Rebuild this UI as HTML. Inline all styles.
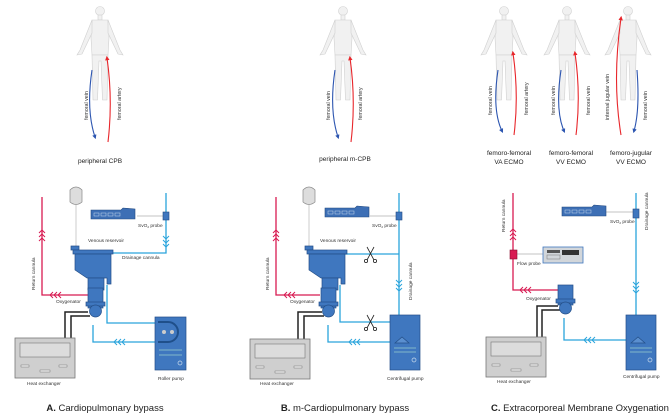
<!DOCTYPE html>
<html><head><meta charset="utf-8"><style>
body{margin:0;background:#fff}
svg{display:block}
text{font-family:"Liberation Sans",sans-serif}
.s{font-size:4.8px;fill:#333}
.v{font-size:5.3px;fill:#333}
.t{font-size:6.5px;fill:#222}
.h{font-size:9.5px;fill:#222}
</style></head><body>
<svg width="669" height="414" viewBox="0 0 669 414" xmlns="http://www.w3.org/2000/svg">
<defs>
<marker id="ab" viewBox="0 0 6 6" refX="3" refY="3" markerWidth="4" markerHeight="4" orient="auto"><path d="M0 0 L6 3 L0 6 Z" fill="#2c55b0"/></marker>
<marker id="ar" viewBox="0 0 6 6" refX="3" refY="3" markerWidth="4" markerHeight="4" orient="auto"><path d="M0 0 L6 3 L0 6 Z" fill="#e8262b"/></marker>
<g id="body" fill="#f1f1f1" stroke="#d0d0d0" stroke-width="0.6">
<circle cx="0" cy="8" r="4.5"/>
<rect x="-2" y="12" width="4" height="5"/>
<path d="M-8 17 L8 17 L9 35 L8 52 L-8 52 L-9 35 Z"/>
<path d="M-8 17 L-20 47 L-23 52 L-18 51 L-8 30 Z"/>
<path d="M8 17 L20 47 L23 52 L18 51 L8 30 Z"/>
<path d="M-8 52 L-7 97 L-2.5 97 L-1 58 L1 58 L2.5 97 L7 97 L8 52 Z"/>
</g>
<g id="heat">
<rect x="0" y="0" width="60" height="40" fill="#cfcfcf" stroke="#777" stroke-width="0.8"/>
<rect x="5" y="5" width="50" height="14" fill="#dcdcdc" stroke="#777" stroke-width="0.6"/>
<rect x="6" y="27" width="8" height="2" fill="#eee" stroke="#777" stroke-width="0.5"/>
<rect x="44" y="27" width="8" height="2" fill="#eee" stroke="#777" stroke-width="0.5"/>
<rect x="25" y="32" width="10" height="2" fill="#eee" stroke="#777" stroke-width="0.5"/>
</g>
<g id="mon">
<path d="M0 2 L30 2 L32 0 L44 1 L44 11 L0 11 Z" fill="#3d6fb5" stroke="#234a80" stroke-width="0.6"/>
<rect x="3" y="5" width="5" height="3" fill="none" stroke="#cde" stroke-width="0.5"/>
<rect x="10" y="5" width="5" height="3" fill="none" stroke="#cde" stroke-width="0.5"/>
<rect x="17" y="5" width="5" height="3" fill="none" stroke="#cde" stroke-width="0.5"/>
<rect x="24" y="5" width="5" height="3" fill="none" stroke="#cde" stroke-width="0.5"/>
</g>
<g id="iv">
<path d="M-6 4 Q0 -2 6 4 L6 16 Q0 21 -6 16 Z" fill="#ddd" stroke="#888" stroke-width="0.7"/>
<line x1="0" y1="19" x2="0" y2="60" stroke="#999" stroke-width="0.5"/>
</g>
<g id="res" fill="#3f77bf" stroke="#244f88" stroke-width="0.7">
<rect x="-2" y="-4" width="8" height="4"/>
<rect x="0" y="0" width="40" height="4"/>
<path d="M2 4 L38 4 L38 34 L34 34 L34 28 L14 28 L2 20 Z"/>
<rect x="15" y="28" width="16" height="12"/>
</g>
<g id="oxy" fill="#3f77bf" stroke="#244f88" stroke-width="0.7">
<rect x="0" y="0" width="15" height="20"/>
<rect x="-2" y="14" width="19" height="4"/>
<circle cx="7.5" cy="23" r="6"/>
</g>
<g id="cp" fill="#3f77bf" stroke="#244f88" stroke-width="0.7">
<rect x="0" y="0" width="30" height="55"/>
<path d="M5 28 L12 22 L19 28 Z" fill="#5a8fd0"/>
<line x1="4" y1="33" x2="26" y2="33" stroke="#9cc" />
<line x1="4" y1="37" x2="26" y2="37" stroke="#9cc"/>
<circle cx="24" cy="45" r="2" fill="none" stroke="#cde"/>
</g>
</defs>

<!-- bodies -->
<use href="#body" x="100" y="3"/>
<use href="#body" x="343" y="3"/>
<use href="#body" x="504" y="3"/>
<use href="#body" x="567" y="3"/>
<use href="#body" x="628" y="3"/>

<g fill="none" stroke-width="1.1">
<path d="M92 70 Q86 110 95 137" stroke="#2c55b0" marker-end="url(#ab)"/>
<path d="M108 142 Q113 100 107 58" stroke="#e8262b" marker-end="url(#ar)"/>
<path d="M335 70 Q329 110 338 137" stroke="#2c55b0" marker-end="url(#ab)"/>
<path d="M351 142 Q356 100 350 58" stroke="#e8262b" marker-end="url(#ar)"/>
<path d="M498 70 Q492 110 502 131" stroke="#2c55b0" marker-end="url(#ab)"/>
<path d="M514 135 Q519 95 513 53" stroke="#e8262b" marker-end="url(#ar)"/>
<path d="M561 70 Q555 110 564 131" stroke="#2c55b0" marker-end="url(#ab)"/>
<path d="M576 135 Q581 95 575 53" stroke="#e8262b" marker-end="url(#ar)"/>
<path d="M621 135 Q612 80 621 18" stroke="#e8262b" marker-end="url(#ar)"/>
<path d="M637 70 Q640 110 634 131" stroke="#2c55b0" marker-end="url(#ab)"/>
</g>
<text class="v" transform="translate(88,120) rotate(-90)">femoral vein</text>
<text class="v" transform="translate(121,120) rotate(-90)">femoral artery</text>
<text class="v" transform="translate(330,120) rotate(-90)">femoral vein</text>
<text class="v" transform="translate(362,120) rotate(-90)">femoral artery</text>
<text class="v" transform="translate(492,115) rotate(-90)">femoral vein</text>
<text class="v" transform="translate(528,115) rotate(-90)">femoral artery</text>
<text class="v" transform="translate(555,115) rotate(-90)">femoral vein</text>
<text class="v" transform="translate(590,115) rotate(-90)">femoral vein</text>
<text class="v" transform="translate(609,120) rotate(-90)">internal jugular vein</text>
<text class="v" transform="translate(647,120) rotate(-90)">femoral vein</text>

<text class="t" x="100" y="163" text-anchor="middle">peripheral CPB</text>
<text class="t" x="345" y="161" text-anchor="middle">peripheral m-CPB</text>
<text class="t" x="509" y="155" text-anchor="middle">femoro-femoral</text>
<text class="t" x="509" y="164" text-anchor="middle">VA ECMO</text>
<text class="t" x="571" y="155" text-anchor="middle">femoro-femoral</text>
<text class="t" x="571" y="164" text-anchor="middle">VV ECMO</text>
<text class="t" x="631" y="155" text-anchor="middle">femoro-jugular</text>
<text class="t" x="631" y="164" text-anchor="middle">VV ECMO</text>

<!-- ===== A ===== -->
<g fill="none" stroke-width="1.3">
<path d="M42 197 L42 295 L90 295" stroke="#d81b52"/>
<path d="M166 193 L166 253 L112 253" stroke="#2aa4dc"/>
<path d="M107 285 L107 323 L155 323" stroke="#2aa4dc"/>
<path d="M155 342 L93 342 L93 325" stroke="#2aa4dc"/>
<path d="M88 312 L65 312 L65 340 M90 316 L71 316 L71 340" stroke="#222" stroke-width="1.5"/>
<path d="M137 216 L163 216" stroke="#888" stroke-width="0.6"/>
</g>
<g fill="none" stroke="#d81b52" stroke-width="1">
<path d="M39 233 l3 -3 l3 3 M39 237 l3 -3 l3 3 M39 241 l3 -3 l3 3"/>
<path d="M53 292 l-3 3 l3 3 M57 292 l-3 3 l3 3 M61 292 l-3 3 l3 3"/>
</g>
<g fill="none" stroke="#2aa4dc" stroke-width="1">
<path d="M163 236 l3 3 l3 -3 M163 240 l3 3 l3 -3 M163 244 l3 3 l3 -3"/>
<path d="M117 339 l-3 3 l3 3 M121 339 l-3 3 l3 3 M125 339 l-3 3 l3 3"/>
</g>
<use href="#iv" x="76" y="186"/>
<use href="#mon" x="91" y="208"/>
<rect x="163" y="212" width="6" height="8" fill="#3f77bf" stroke="#234a80" stroke-width="0.6"/>
<use href="#res" x="73" y="250"/>
<use href="#oxy" x="88" y="288"/>
<use href="#heat" x="15" y="338"/>
<g>
<rect x="155" y="317" width="31" height="53" fill="#3f77bf" stroke="#244f88" stroke-width="0.7"/>
<path d="M158 322 L168 322 A10 10 0 0 1 168 342 L158 342" fill="none" stroke="#1f4f8a" stroke-width="2"/>
<circle cx="164" cy="332" r="2" fill="#ccc"/><circle cx="172" cy="332" r="2" fill="#ccc"/>
<line x1="159" y1="350" x2="182" y2="350" stroke="#9cc" stroke-width="0.7"/>
<line x1="159" y1="355" x2="182" y2="355" stroke="#9cc" stroke-width="0.7"/>
<circle cx="180" cy="363" r="2" fill="none" stroke="#cde" stroke-width="0.7"/>
</g>
<text class="s" transform="translate(35,290) rotate(-90)">Return cannula</text>
<text class="s" x="88" y="242">Venous reservoir</text>
<text class="s" x="138" y="227">SvO<tspan font-size="3" dy="1">2</tspan><tspan dy="-1"> probe</tspan></text>
<text class="s" x="122" y="259">Drainage cannula</text>
<text class="s" x="56" y="303">Oxygenator</text>
<text class="s" x="27" y="385">Heat exchanger</text>
<text class="s" x="158" y="380">Roller pump</text>
<text class="h" x="105" y="411" text-anchor="middle"><tspan font-weight="bold">A.</tspan> Cardiopulmonary bypass</text>

<!-- ===== B ===== -->
<g fill="none" stroke-width="1.3">
<path d="M276 197 L276 295 L320 295" stroke="#d81b52"/>
<path d="M399 193 L399 345" stroke="#2aa4dc"/>
<path d="M340 254 L399 254" stroke="#2aa4dc"/>
<path d="M340 285 L340 322 L399 322" stroke="#2aa4dc"/>
<path d="M390 342 L328 342 L328 325" stroke="#2aa4dc"/>
<path d="M322 312 L298 312 L298 340 M324 316 L304 316 L304 340" stroke="#222" stroke-width="1.5"/>
<path d="M370 216 L396 216" stroke="#888" stroke-width="0.6"/>
</g>
<g fill="none" stroke="#d81b52" stroke-width="1">
<path d="M273 233 l3 -3 l3 3 M273 237 l3 -3 l3 3 M273 241 l3 -3 l3 3"/>
<path d="M287 292 l-3 3 l3 3 M291 292 l-3 3 l3 3 M295 292 l-3 3 l3 3"/>
</g>
<g fill="none" stroke="#2aa4dc" stroke-width="1">
<path d="M396 280 l3 3 l3 -3 M396 284 l3 3 l3 -3 M396 288 l3 3 l3 -3"/>
<path d="M352 339 l-3 3 l3 3 M356 339 l-3 3 l3 3 M360 339 l-3 3 l3 3"/>
</g>
<g fill="none" stroke="#222" stroke-width="0.8">
<path d="M367 247 L374 260 M374 247 L367 260"/><circle cx="366" cy="261" r="1.6"/><circle cx="375" cy="261" r="1.6"/>
<path d="M367 315 L374 328 M374 315 L367 328"/><circle cx="366" cy="329" r="1.6"/><circle cx="375" cy="329" r="1.6"/>
</g>
<use href="#iv" x="309" y="186"/>
<use href="#mon" x="325" y="206"/>
<rect x="396" y="212" width="6" height="8" fill="#3f77bf" stroke="#234a80" stroke-width="0.6"/>
<use href="#res" x="307" y="250"/>
<use href="#oxy" x="321" y="288"/>
<use href="#heat" x="250" y="339"/>
<use href="#cp" x="390" y="315"/>
<text class="s" transform="translate(269,290) rotate(-90)">Return cannula</text>
<text class="s" x="320" y="242">Venous reservoir</text>
<text class="s" x="372" y="227">SvO<tspan font-size="3" dy="1">2</tspan><tspan dy="-1"> probe</tspan></text>
<text class="s" transform="translate(412,300) rotate(-90)">Drainage cannula</text>
<text class="s" x="290" y="303">Oxygenator</text>
<text class="s" x="260" y="385">Heat exchanger</text>
<text class="s" x="387" y="380">Centrifugal pump</text>
<text class="h" x="345" y="411" text-anchor="middle"><tspan font-weight="bold">B.</tspan> m-Cardiopulmonary bypass</text>

<!-- ===== C ===== -->
<g fill="none" stroke-width="1.3">
<path d="M513 193 L513 290 L558 290" stroke="#d81b52"/>
<path d="M636 193 L636 338" stroke="#2aa4dc"/>
<path d="M626 340 L564 340 L564 318" stroke="#2aa4dc"/>
<path d="M558 306 L537 306 L537 337 M560 310 L542 310 L542 337" stroke="#222" stroke-width="1.5"/>
<path d="M604 212 L633 212 M516 254 L543 254" stroke="#888" stroke-width="0.6"/>
</g>
<g fill="none" stroke="#d81b52" stroke-width="1">
<path d="M510 232 l3 -3 l3 3 M510 236 l3 -3 l3 3 M510 240 l3 -3 l3 3"/>
<path d="M523 287 l-3 3 l3 3 M527 287 l-3 3 l3 3 M531 287 l-3 3 l3 3"/>
</g>
<g fill="none" stroke="#2aa4dc" stroke-width="1">
<path d="M633 282 l3 3 l3 -3 M633 286 l3 3 l3 -3 M633 290 l3 3 l3 -3"/>
<path d="M587 337 l-3 3 l3 3 M591 337 l-3 3 l3 3 M595 337 l-3 3 l3 3"/>
</g>
<rect x="510" y="250" width="7" height="9" fill="#d81b52" stroke="#8a1030" stroke-width="0.6"/>
<g>
<rect x="543" y="247" width="40" height="16" fill="#d2d6da" stroke="#3f77bf" stroke-width="0.8"/>
<rect x="547" y="250" width="13" height="3" fill="#555"/>
<rect x="562" y="250" width="17" height="5" fill="#333"/>
<rect x="547" y="255" width="13" height="4" fill="none" stroke="#777" stroke-width="0.5"/>
</g>
<use href="#mon" x="562" y="205"/>
<rect x="633" y="209" width="6" height="9" fill="#3f77bf" stroke="#234a80" stroke-width="0.6"/>
<use href="#oxy" x="558" y="285"/>
<use href="#heat" x="486" y="337"/>
<use href="#cp" x="626" y="315"/>
<text class="s" transform="translate(505,232) rotate(-90)">Return cannula</text>
<text class="s" x="517" y="265">Flow probe</text>
<text class="s" x="610" y="223">SvO<tspan font-size="3" dy="1">2</tspan><tspan dy="-1"> probe</tspan></text>
<text class="s" transform="translate(648,230) rotate(-90)">Drainage cannula</text>
<text class="s" x="526" y="300">Oxygenator</text>
<text class="s" x="497" y="383">Heat exchanger</text>
<text class="s" x="623" y="378">Centrifugal pump</text>
<text class="h" x="580" y="411" text-anchor="middle"><tspan font-weight="bold">C.</tspan> Extracorporeal Membrane Oxygenation</text>
</svg>
</body></html>
